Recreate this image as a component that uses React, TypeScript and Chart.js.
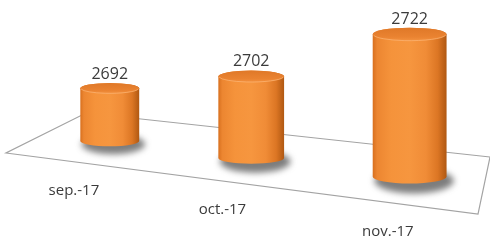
import React, { useEffect, useRef } from "react";
import { Chart, registerables } from "chart.js";

Chart.register(...registerables);

// ---- data ----
const categories: string[] = ["sep.-17", "oct.-17", "nov.-17"];
const values: number[] = [2692, 2702, 2722];

// ---- value axis range (hidden) ----
const Y_MIN = 2666;
const Y_MAX = 2730;

// ---- 3D look (style) ----
// floor corners on screen: front-left, front-right, back-right, back-left
const FLOOR: number[][] = [
  [6, 153],
  [478, 214],
  [490, 157],
  [86, 113],
];
const BAR_DEPTH = 0.45; // where bars stand on the floor (0 = front edge, 1 = back edge)
const Z_ASPECT = 0.66; // vertical-to-horizontal unit ratio
const U_STRETCH = 1.025;
const U_SHIFT = 0.01;
const TEXT_COLOR = "#3b3b3b";
const FONT = "'Open Sans', 'DejaVu Sans', sans-serif";

function makeHomography(q: number[][]) {
  const [[x0, y0], [x1, y1], [x2, y2], [x3, y3]] = q;
  const sx = x0 - x1 + x2 - x3;
  const sy = y0 - y1 + y2 - y3;
  const dx1 = x1 - x2, dx2 = x3 - x2, dy1 = y1 - y2, dy2 = y3 - y2;
  const det = dx1 * dy2 - dx2 * dy1;
  const g = (sx * dy2 - dx2 * sy) / det;
  const h = (dx1 * sy - sx * dy1) / det;
  const a = x1 - x0 + g * x1, b = x3 - x0 + h * x3, c = x0;
  const d = y1 - y0 + g * y1, e = y3 - y0 + h * y3, f = y0;
  return (u: number, v: number): [number, number] => {
    const w = g * u + h * v + 1;
    return [(a * u + b * v + c) / w, (d * u + e * v + f) / w];
  };
}

const project = makeHomography(FLOOR);

const cylinderPlugin = {
  id: "cylinder3d",
  afterDatasetsDraw(chart: any) {
    const ctx: CanvasRenderingContext2D = chart.ctx;
    const area = chart.chartArea;
    const meta = chart.getDatasetMeta(0);
    const yScale = chart.scales.y;
    const basePx = yScale.getPixelForValue(yScale.min);
    const toU = (x: number) =>
      0.5 + U_SHIFT + ((x - area.left) / (area.right - area.left) - 0.5) * U_STRETCH;

    ctx.save();

    // floor
    ctx.beginPath();
    const c0 = project(0, 0), c1 = project(1, 0), c2 = project(1, 1), c3 = project(0, 1);
    ctx.moveTo(c0[0], c0[1]);
    ctx.lineTo(c1[0], c1[1]);
    ctx.lineTo(c2[0], c2[1]);
    ctx.lineTo(c3[0], c3[1]);
    ctx.closePath();
    ctx.strokeStyle = "#a3a3a3";
    ctx.lineWidth = 1.2;
    ctx.stroke();

    const bars = meta.data.map((el: any, i: number) => {
      const x = el.x;
      const width = el.width;
      const topPx = yScale.getPixelForValue(values[i]);
      const u = toU(x);
      const uL = toU(x - width / 2);
      const uR = toU(x + width / 2);
      const pL = project(uL, BAR_DEPTH);
      const pR = project(uR, BAR_DEPTH);
      const pC = project(u, BAR_DEPTH);
      const rx = (pR[0] - pL[0]) / 2;
      const cx = (pR[0] + pL[0]) / 2;
      const ry = rx * 0.18;
      const scale = (pR[0] - pL[0]) / width;
      const h = (basePx - topPx) * scale * Z_ASPECT;
      const by = pC[1];
      const ty = by - h;
      return { i, u, cx, rx, ry, by, ty };
    });

    // shadows
    bars.forEach((b: any) => {
      ctx.save();
      ctx.filter = "blur(3px)";
      ctx.fillStyle = "rgba(70,70,70,0.7)";
      ctx.beginPath();
      ctx.ellipse(b.cx + b.rx * 0.12, b.by + b.ry * 0.6, b.rx * 1.08, b.ry * 1.9, 0, 0, Math.PI * 2);
      ctx.fill();
      ctx.restore();
    });

    // cylinders
    bars.forEach((b: any) => {
      const { cx, rx, ry, by, ty } = b;
      const L = cx - rx, R = cx + rx;
      const grad = ctx.createLinearGradient(L, 0, R, 0);
      grad.addColorStop(0, "#d8701f");
      grad.addColorStop(0.06, "#ec8631");
      grad.addColorStop(0.25, "#f5933b");
      grad.addColorStop(0.5, "#f6963f");
      grad.addColorStop(0.72, "#f08c37");
      grad.addColorStop(0.88, "#dc7624");
      grad.addColorStop(1, "#b05812");
      ctx.beginPath();
      ctx.moveTo(L, ty);
      ctx.lineTo(L, by);
      ctx.ellipse(cx, by, rx, ry, 0, Math.PI, 0, true);
      ctx.lineTo(R, ty);
      ctx.ellipse(cx, ty, rx, ry, 0, 0, Math.PI, true);
      ctx.closePath();
      ctx.fillStyle = grad;
      ctx.fill();

      // top face
      const tg = ctx.createLinearGradient(0, ty - ry, 0, ty + ry);
      tg.addColorStop(0, "#df7828");
      tg.addColorStop(0.7, "#ea8331");
      tg.addColorStop(1, "#f3923f");
      ctx.beginPath();
      ctx.ellipse(cx, ty, rx, ry, 0, 0, Math.PI * 2);
      ctx.fillStyle = tg;
      ctx.fill();
      ctx.beginPath();
      ctx.ellipse(cx, ty, rx - 0.5, ry - 0.3, 0, 0.15, Math.PI - 0.15);
      ctx.strokeStyle = "rgba(255,190,130,0.6)";
      ctx.lineWidth = 1;
      ctx.stroke();
    });

    // value labels
    ctx.fillStyle = TEXT_COLOR;
    ctx.textAlign = "center";
    ctx.textBaseline = "alphabetic";
    ctx.font = `16px ${FONT}`;
    bars.forEach((b: any) => {
      const v = chart.data.datasets[0].data[b.i];
      ctx.fillText(String(v), b.cx, b.ty - b.ry - 4);
    });

    // category labels in front of the floor
    ctx.font = `15px ${FONT}`;
    bars.forEach((b: any) => {
      const p = project(b.u, 0);
      const label = chart.data.labels[b.i];
      ctx.fillText(String(label), p[0] - 12 * b.u * b.u, p[1] + 33);
    });

    ctx.restore();
  },
};

export default function App() {
  const canvasRef = useRef<HTMLCanvasElement | null>(null);

  useEffect(() => {
    document.body.style.margin = "0";
    const canvas = canvasRef.current;
    if (!canvas) return;
    const chart = new Chart(canvas, {
      type: "bar",
      data: {
        labels: categories,
        datasets: [
          {
            data: values,
            backgroundColor: "rgba(0,0,0,0)",
            borderWidth: 0,
            categoryPercentage: 0.8,
            barPercentage: 0.55,
          },
        ],
      },
      options: {
        responsive: false,
        maintainAspectRatio: false,
        devicePixelRatio: 1,
        animation: false,
        layout: { padding: 0 },
        plugins: {
          legend: { display: false },
          tooltip: { enabled: false },
        },
        scales: {
          x: { display: false },
          y: { display: false, min: Y_MIN, max: Y_MAX, beginAtZero: false },
        },
      },
      plugins: [cylinderPlugin],
    });
    return () => chart.destroy();
  }, []);

  return (
    <div style={{ width: 490, height: 240, background: "#ffffff" }}>
      <canvas ref={canvasRef} width={490} height={240} style={{ display: "block" }} />
    </div>
  );
}
